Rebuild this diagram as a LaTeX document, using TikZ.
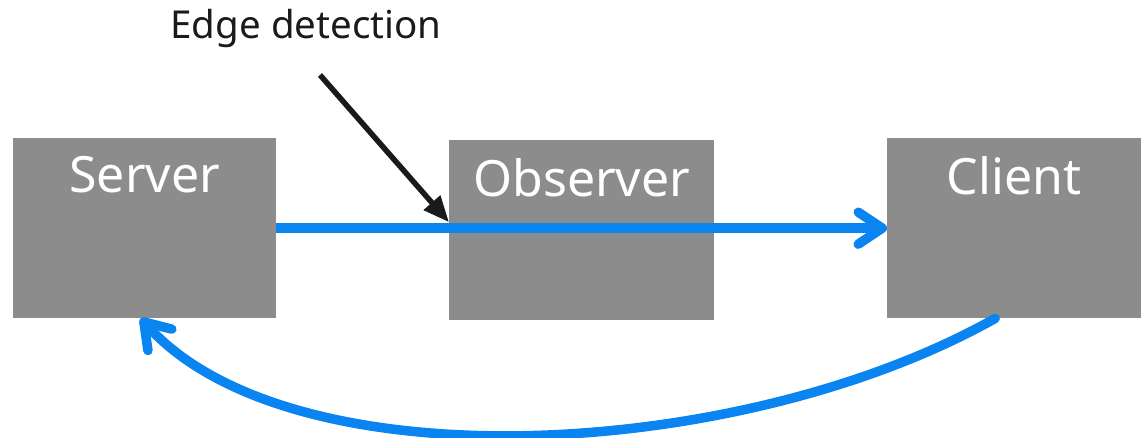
\documentclass[tikz,border=0pt]{standalone}
\usepackage{fontspec}
\setmainfont{Noto Sans}
\usetikzlibrary{arrows.meta}
\definecolor{boxgray}{HTML}{8C8C8C}
\definecolor{flowblue}{HTML}{0A84F0}
\definecolor{inkblack}{HTML}{1A1A1A}
\begin{document}
\begin{tikzpicture}[x=1pt,y=-1pt,
  block/.style={draw=none, fill=boxgray, anchor=north west, inner sep=0pt},
  blocktext/.style={text=white, font=\fontsize{50}{54}\selectfont, anchor=north, inner sep=0pt},
  flow/.style={draw=flowblue, line width=9.5pt, line cap=round,
    -{Straight Barb[length=24pt, width=32pt, round]}},
  pointer/.style={draw=inkblack, line width=5.5pt,
    -{Triangle[length=26pt, width=21pt]}}]
  \useasboundingbox (0,0) rectangle (1141,438);
  % the three boxes
  \node[block, minimum width=263pt, minimum height=180pt,
    label={[blocktext, yshift=-18pt]north:Server}] (server) at (13,138) {};
  \node[block, minimum width=265pt, minimum height=180pt,
    label={[blocktext, yshift=-18pt]north:Observer}] (observer) at (449,140) {};
  \node[block, minimum width=254pt, minimum height=180pt,
    label={[blocktext, yshift=-18pt]north:Client}] (client) at (887,138) {};
  % caption and its pointer
  \node[font=\fontsize{38.5}{42}\selectfont, text=inkblack, inner sep=0pt] (edge) at (306,28) {Edge detection};
  \coordinate (edgestart) at (320,75);
  \draw[pointer, line cap=butt] (edgestart) -- ([yshift=8pt]observer.west);
  % forward and return flows
  \draw[flow, line cap=butt] (server.east) -- (client.west);
  \draw[flow] ([xshift=-19pt]client.south) .. controls (740,462) and (290,485) .. ([xshift=-4pt]server.south);
\end{tikzpicture}
\end{document}
